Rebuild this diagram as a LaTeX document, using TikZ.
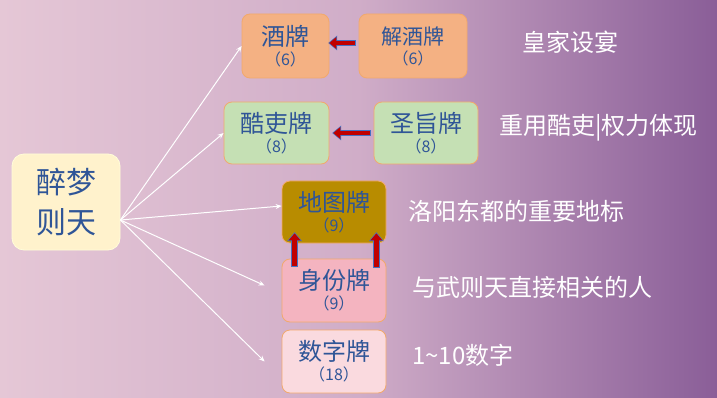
\documentclass[tikz,border=0pt]{standalone}
\usepackage{fontspec}
\usepackage{xcolor}
\usetikzlibrary{arrows.meta}
\setmainfont{Noto Sans CJK SC}

\definecolor{bgleft}{HTML}{E5C7D6}
\definecolor{bgmid}{HTML}{D0ADC8}
\definecolor{bgright}{HTML}{8A5E98}
\definecolor{textblue}{HTML}{2F5597}
\definecolor{cardedge}{HTML}{F2A96B}
\definecolor{orangecard}{HTML}{F4B183}
\definecolor{greencard}{HTML}{C5E0B4}
\definecolor{goldcard}{HTML}{B88C00}
\definecolor{pinkcard}{HTML}{F4B4C0}
\definecolor{palepink}{HTML}{FADADF}
\definecolor{rootcard}{HTML}{FFF2CC}
\definecolor{darkred}{HTML}{C00000}
\definecolor{edgeblue}{HTML}{4472C4}

\newcommand{\cardnum}{\fontsize{16}{18}\selectfont}

\tikzset{
  card/.style={rounded corners=8pt, draw=cardedge, line width=0.8pt, align=center,
    text=textblue, inner sep=0pt, font=\fontsize{24}{20}\selectfont},
  note/.style={anchor=west, inner sep=0pt, text=white, font=\fontsize{24}{26}\selectfont},
  link/.style={white, line width=1pt, -{Stealth[length=6pt,width=5pt]}},
  redarrow/.style={draw=darkred, line width=4.5pt,
    -{Triangle[length=7pt,width=12pt,line width=0pt]},
    preaction={draw=edgeblue, line width=6.5pt,
      -{Triangle[length=9pt,width=15pt,line width=0pt]},
      shorten >=-1.2pt, shorten <=-1pt}}
}

\begin{document}
\begin{tikzpicture}[x=1pt, y=-1pt]
  % Background
  \shade[left color=bgleft, right color=bgright, middle color=bgmid] (0,0) rectangle (717,398);
  \useasboundingbox (0,0) rectangle (717,398);

  % Root
  \node[card, fill=rootcard, draw=white!85!yellow, minimum width=108pt, minimum height=96pt,
    rounded corners=12pt, font=\fontsize{30}{40}\selectfont] (root) at (66,202) {醉梦\\则天};
  \coordinate (hub) at ([yshift=-18pt]root.east);

  % Wine cards
  \node[card, fill=orangecard, minimum width=87pt, minimum height=64pt] (jiu) at (285.5,46)
    {酒牌\\{\cardnum （6）}};
  \node[card, fill=orangecard, minimum width=108pt, minimum height=64pt] (jiejiu) at (413,46)
    {\fontsize{21}{20}\selectfont 解酒牌\\{\cardnum （6）}};

  % Officer cards
  \node[card, fill=greencard, minimum width=105pt, minimum height=62pt] (kuli) at (276.5,133)
    {酷吏牌\\{\cardnum （8）}};
  \node[card, fill=greencard, minimum width=104pt, minimum height=62pt] (shengzhi) at (426,133)
    {圣旨牌\\{\cardnum （8）}};

  % Map, identity and number cards
  \node[card, fill=goldcard, minimum width=104pt, minimum height=62pt] (ditu) at (334,212)
    {地图牌\\{\cardnum （9）}};
  \node[card, fill=pinkcard, minimum width=104pt, minimum height=63pt] (shenfen) at (334,290.5)
    {身份牌\\{\cardnum （9）}};
  \node[card, fill=palepink, minimum width=104pt, minimum height=63pt] (shuzi) at (334,361.5)
    {数字牌\\{\cardnum （18）}};

  % Links from root
  \draw[link] (hub) -- (jiu.west);
  \draw[link] (hub) -- (kuli.west);
  \draw[link] (hub) -- ([yshift=6pt]ditu.west);
  \draw[link] (hub) -- ([xshift=-17pt,yshift=5pt]shenfen.west);
  \draw[link] (hub) -- ([xshift=-17pt]shuzi.west);

  % Red arrows
  \draw[redarrow] ([xshift=-4pt,yshift=3pt]jiejiu.west) -- ([yshift=3pt]jiu.east);
  \draw[redarrow] ([xshift=-4pt]shengzhi.west) -- ([xshift=4pt]kuli.east);
  \draw[redarrow] ([xshift=13pt,yshift=-7pt]shenfen.north west) -- ([xshift=13pt,yshift=10pt]ditu.south west);
  \draw[redarrow] ([xshift=-10pt,yshift=-8pt]shenfen.north east) -- ([xshift=-10pt,yshift=10pt]ditu.south east);

  % Notes
  \node[note] (n1) at (522,42) {皇家设宴};
  \node[note] (n2) at (499,128) {重用酷吏|权力体现};
  \node[note] (n3) at (408,211) {洛阳东都的重要地标};
  \node[note] (n4) at (412,287) {与武则天直接相关的人};
  \node[note] (n5) at (412,355) {1\textasciitilde 10数字};

\end{tikzpicture}
\end{document}
